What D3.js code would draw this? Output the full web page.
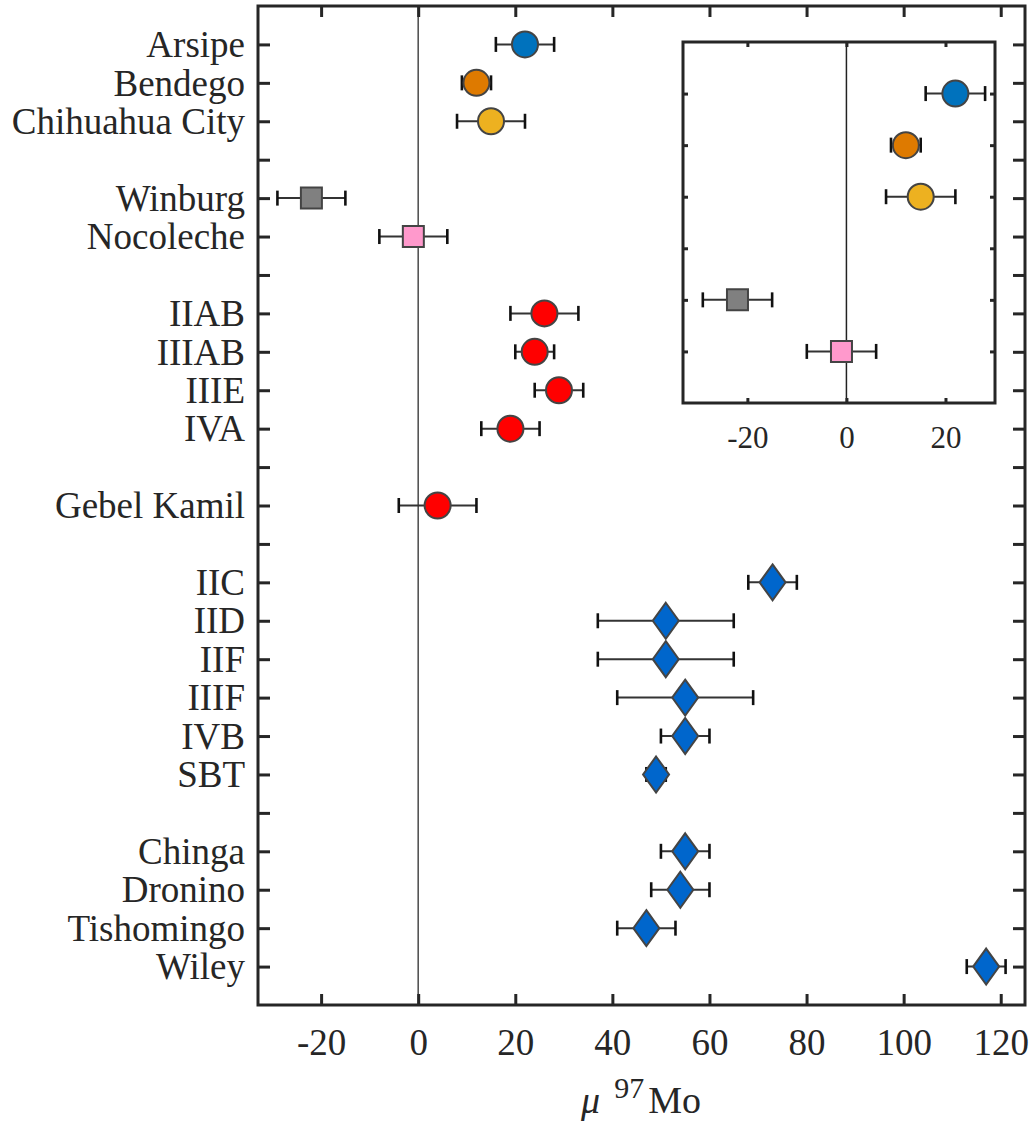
<!DOCTYPE html>
<html>
<head>
<meta charset="utf-8">
<script src="https://cdn.jsdelivr.net/npm/d3@7"></script>
<style>
  body { margin: 0; background: #fff; }
  svg text { font-family: "Liberation Serif", "Times New Roman", serif; fill: #262626; }
  .axis path, .axis line { stroke: #262626; }
</style>
</head>
<body>
<div id="chart"></div>
<script>
// sample names, row position (blank rows separate the groups), mu97Mo value and 2SD
const names = ['Arsipe', 'Bendego', 'Chihuahua City', 'Winburg', 'Nocoleche',
  'IIAB', 'IIIAB', 'IIIE', 'IVA', 'Gebel Kamil',
  'IIC', 'IID', 'IIF', 'IIIF', 'IVB', 'SBT',
  'Chinga', 'Dronino', 'Tishomingo', 'Wiley'];
const rows = [1, 2, 3, 5, 6, 8, 9, 10, 11, 13, 15, 16, 17, 18, 19, 20, 22, 23, 24, 25];
const values = [22, 12, 15, -22, -1, 26, 24, 29, 19, 4, 73, 51, 51, 55, 55, 49, 55, 54, 47, 117];
const errors = [6, 3, 7, 7, 7, 7, 4, 5, 6, 8, 5, 14, 14, 14, 5, 2, 5, 6, 6, 4];
const shapes = ['circle', 'circle', 'circle', 'square', 'square',
  'circle', 'circle', 'circle', 'circle', 'circle',
  'diamond', 'diamond', 'diamond', 'diamond', 'diamond', 'diamond',
  'diamond', 'diamond', 'diamond', 'diamond'];
const colors = ['#0072BD', '#DE7A00', '#EDB120', '#808080', '#FF99CC',
  '#FF0000', '#FF0000', '#FF0000', '#FF0000', '#FF0000',
  '#0066CC', '#0066CC', '#0066CC', '#0066CC', '#0066CC', '#0066CC',
  '#0066CC', '#0066CC', '#0066CC', '#0066CC'];
const xTicks = [-20, 0, 20, 40, 60, 80, 100, 120];

// inset: zoom on the first five samples
const insetCount = 5;
const insetRows = [1, 2, 3, 5, 6];
const insetTicks = [-20, 0, 20];

const data = names.map((n, i) => ({
  name: n, row: rows[i], value: values[i], err: errors[i], shape: shapes[i], color: colors[i]
}));

const W = 1033, H = 1126;
const svg = d3.select('#chart').append('svg').attr('width', W).attr('height', H);
const plain = d => String(d); // hyphen minus like the original, not U+2212

// main plot area
const plot = { left: 258, right: 1025, top: 6, bottom: 1005 };
const x = d3.scaleLinear().domain([-33, 125]).range([plot.left, plot.right]);
const y = d3.scaleLinear().domain([0, 26]).range([plot.top, plot.bottom]);
const allRows = d3.range(1, 26);
const labelFor = r => {
  const d = data.find(e => e.row === r);
  return d ? d.name : '';
};

function drawMarks(g, sx, sy, items, rowOf) {
  // zero line
  g.append('line')
    .attr('x1', sx(0)).attr('x2', sx(0))
    .attr('y1', sy.range()[0]).attr('y2', sy.range()[1])
    .attr('stroke', '#555').attr('stroke-width', 1.6);

  const m = g.selectAll('.mark').data(items).join('g').attr('class', 'mark');
  // error bars
  m.append('line')
    .attr('x1', d => sx(d.value - d.err)).attr('x2', d => sx(d.value + d.err))
    .attr('y1', d => sy(rowOf(d))).attr('y2', d => sy(rowOf(d)))
    .attr('stroke', '#333').attr('stroke-width', 2);
  [-1, 1].forEach(s => {
    m.append('line')
      .attr('x1', d => sx(d.value + s * d.err)).attr('x2', d => sx(d.value + s * d.err))
      .attr('y1', d => sy(rowOf(d)) - 7.5).attr('y2', d => sy(rowOf(d)) + 7.5)
      .attr('stroke', '#111').attr('stroke-width', 2.6);
  });
  // symbols
  m.append('path')
    .attr('transform', d => `translate(${sx(d.value)},${sy(rowOf(d))})`)
    .attr('d', d => {
      if (d.shape === 'circle') return 'M13,0A13,13 0 1,1 -13,0A13,13 0 1,1 13,0Z';
      if (d.shape === 'square') return 'M-10.5,-10.5H10.5V10.5H-10.5Z';
      return 'M0,-18L13,0L0,18L-13,0Z';
    })
    .attr('fill', d => d.color)
    .attr('stroke', '#444').attr('stroke-width', 2);
}

drawMarks(svg.append('g'), x, y, data, d => d.row);

// main axes, ticks pointing inward
const bottomAxis = svg.append('g').attr('class', 'axis')
  .attr('transform', `translate(0,${plot.bottom})`)
  .call(d3.axisBottom(x).tickValues(xTicks).tickSizeInner(-11).tickSizeOuter(0).tickPadding(24)
    .tickFormat(plain));
bottomAxis.selectAll('text').attr('font-size', 37).attr('dy', '0.71em');

svg.append('g').attr('class', 'axis')
  .attr('transform', `translate(0,${plot.top})`)
  .call(d3.axisTop(x).tickValues(xTicks).tickSizeInner(-11).tickSizeOuter(0).tickFormat(''));

const leftAxis = svg.append('g').attr('class', 'axis')
  .attr('transform', `translate(${plot.left},0)`)
  .call(d3.axisLeft(y).tickValues(allRows).tickSizeInner(-12).tickSizeOuter(0).tickPadding(13)
    .tickFormat(labelFor));
leftAxis.selectAll('text').attr('font-size', 37).attr('dy', '0.33em');

svg.append('g').attr('class', 'axis')
  .attr('transform', `translate(${plot.right},0)`)
  .call(d3.axisRight(y).tickValues(allRows).tickSizeInner(-12).tickSizeOuter(0).tickFormat(''));

svg.selectAll('.axis line').attr('stroke-width', 3);
svg.selectAll('.axis .domain').remove();
svg.append('rect')
  .attr('x', plot.left).attr('y', plot.top)
  .attr('width', plot.right - plot.left).attr('height', plot.bottom - plot.top)
  .attr('fill', 'none').attr('stroke', '#262626').attr('stroke-width', 3);

// axis title: mu ^97 Mo
const title = svg.append('text')
  .attr('x', 641).attr('y', 1113).attr('text-anchor', 'middle').attr('font-size', 38);
title.append('tspan').attr('font-style', 'italic').text('μ');
title.append('tspan').attr('dx', 14).attr('dy', -15).attr('font-size', 30).text('97');
title.append('tspan').attr('dx', 4).attr('dy', 15).text('Mo');

// inset
const inset = { left: 683, right: 995, top: 42, bottom: 403 };
const xi = d3.scaleLinear().domain([-33, 30]).range([inset.left, inset.right]);
const yi = d3.scaleLinear().domain([0, 7]).range([inset.top, inset.bottom]);
const ig = svg.append('g');
ig.append('rect')
  .attr('x', inset.left).attr('y', inset.top)
  .attr('width', inset.right - inset.left).attr('height', inset.bottom - inset.top)
  .attr('fill', '#fff');

const insetData = data.slice(0, insetCount).map((d, i) => Object.assign({}, d, { irow: insetRows[i] }));
drawMarks(ig, xi, yi, insetData, d => d.irow);
ig.select('line').attr('stroke', '#222').attr('stroke-width', 1.5);

const iBottom = ig.append('g').attr('class', 'axis')
  .attr('transform', `translate(0,${inset.bottom})`)
  .call(d3.axisBottom(xi).tickValues(insetTicks).tickSizeInner(-5).tickSizeOuter(0).tickPadding(23)
    .tickFormat(plain));
iBottom.selectAll('text').attr('font-size', 31).attr('dy', '0.71em');
ig.append('g').attr('class', 'axis')
  .attr('transform', `translate(0,${inset.top})`)
  .call(d3.axisTop(xi).tickValues(insetTicks).tickSizeInner(-5).tickSizeOuter(0).tickFormat(''));
ig.append('g').attr('class', 'axis')
  .attr('transform', `translate(${inset.left},0)`)
  .call(d3.axisLeft(yi).tickValues(d3.range(1, 7)).tickSizeInner(-5).tickSizeOuter(0).tickFormat(''));
ig.append('g').attr('class', 'axis')
  .attr('transform', `translate(${inset.right},0)`)
  .call(d3.axisRight(yi).tickValues(d3.range(1, 7)).tickSizeInner(-5).tickSizeOuter(0).tickFormat(''));
ig.selectAll('.axis line').attr('stroke-width', 3);
ig.selectAll('.axis .domain').remove();
ig.append('rect')
  .attr('x', inset.left).attr('y', inset.top)
  .attr('width', inset.right - inset.left).attr('height', inset.bottom - inset.top)
  .attr('fill', 'none').attr('stroke', '#262626').attr('stroke-width', 3);
</script>
</body>
</html>
